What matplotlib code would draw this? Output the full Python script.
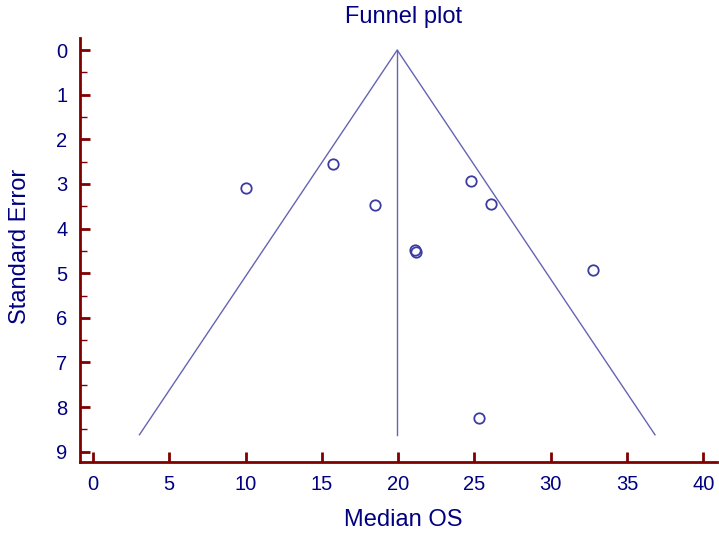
import matplotlib.pyplot as plt
from matplotlib.ticker import MultipleLocator

# study estimates (x) and their standard errors (y)
median_os = [10.0, 15.7, 18.5, 21.1, 21.2, 24.8, 26.1, 32.8, 25.3]
std_err   = [3.09, 2.56, 3.48, 4.47, 4.52, 2.93, 3.45, 4.92, 8.24]

# funnel: pooled estimate and the widest standard error
pooled   = 19.94
se_max   = 8.62
z        = 1.96

SPINE   = '#800000'
TEXT    = '#000080'
LINE    = '#6464B4'
MARKER  = '#3C3CA0'

plt.rcParams['font.family'] = ['Liberation Sans', 'DejaVu Sans']

fig = plt.figure(figsize=(7.19, 5.37), dpi=100)
ax = fig.add_axes([80 / 719, 75 / 537, 637 / 719, 424 / 537])

# funnel limits and the centre line
ax.plot([pooled - z * se_max, pooled, pooled + z * se_max],
        [se_max, 0, se_max], color=LINE, lw=1.0)
ax.plot([pooled, pooled], [0, se_max], color=LINE, lw=1.0)

ax.plot(median_os, std_err, 'o', mfc='none', mec=MARKER, mew=1.3, ms=7.5,
        linestyle='none')

ax.set_xlim(-0.85, 40.9)
ax.set_ylim(9.23, -0.27)

ax.xaxis.set_major_locator(MultipleLocator(5))
ax.yaxis.set_major_locator(MultipleLocator(1))
ax.yaxis.set_minor_locator(MultipleLocator(0.5))

for side in ('top', 'right'):
    ax.spines[side].set_visible(False)
for side in ('left', 'bottom'):
    ax.spines[side].set_color(SPINE)
    ax.spines[side].set_linewidth(2.0)

ax.tick_params(which='major', direction='in', length=7.5, width=2.0,
               color=SPINE, labelcolor=TEXT, labelsize=14.5)
ax.tick_params(axis='y', which='minor', direction='in', length=4.8,
               width=1.0, color=SPINE)
ax.tick_params(axis='x', pad=9)
ax.tick_params(axis='y', pad=9)

fig.text(404 / 719, 1 - 17 / 537, 'Funnel plot', ha='center', va='center',
         fontsize=17, color=TEXT)
fig.text(403 / 719, 1 - 520 / 537, 'Median OS', ha='center', va='center',
         fontsize=17, color=TEXT)
fig.text(20 / 719, 1 - 246 / 537, 'Standard Error', ha='center', va='center',
         rotation=90, fontsize=17, color=TEXT)

fig.savefig('out.png', dpi=100)
